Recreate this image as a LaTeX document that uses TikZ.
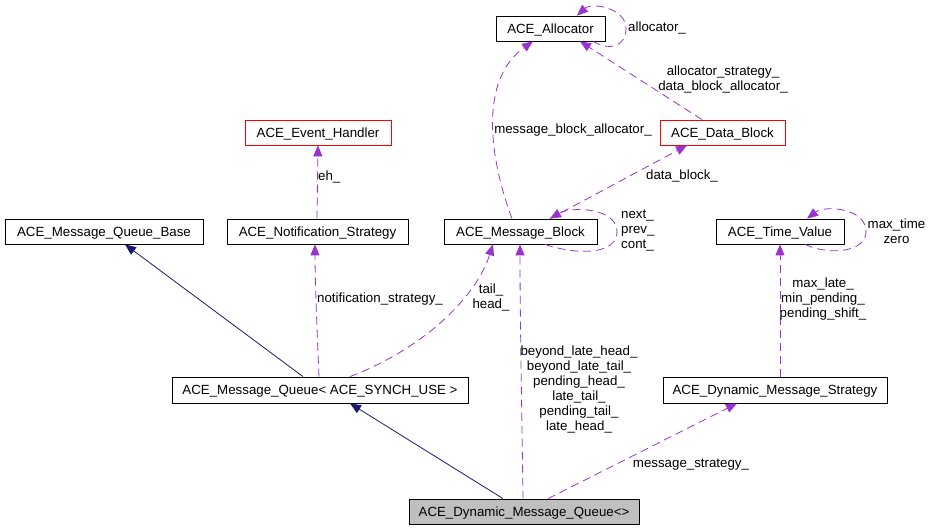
\documentclass[tikz,border=0pt]{standalone}
\usepackage{fontspec}
\setmainfont{Liberation Sans}
\usetikzlibrary{arrows.meta}
\definecolor{edgepurple}{HTML}{9A32CD}
\definecolor{edgenavy}{HTML}{191970}
\definecolor{boxgrey}{HTML}{BFBFBF}
\begin{document}
\begin{tikzpicture}[x=1pt,y=-1pt,
  every node/.style={font=\fontsize{13.3}{15}\selectfont, inner sep=0pt},
  cls/.style={draw=black, line width=0.8pt, minimum height=25pt, fill=white, text height=9.4pt, text depth=0pt},
  redcls/.style={cls, draw=red},
  usearrow/.style={draw=edgepurple, line width=0.8pt, dash pattern=on 8pt off 5pt, -{Triangle[length=11pt,width=9pt]}},
  inharrow/.style={draw=edgenavy, line width=0.8pt, -{Triangle[length=11pt,width=9pt]}},
  lbl/.style={align=center}
]
\useasboundingbox[fill=white] (0,0) rectangle (932,529);

% nodes
\node[cls, minimum width=109pt] (alloc) at (550.5,28.5) {ACE\_Allocator};
\node[redcls, minimum width=125pt] (datablock) at (722.5,132.5) {ACE\_Data\_Block};
\node[redcls, minimum width=146pt] (evh) at (318,132.5) {ACE\_Event\_Handler};
\node[cls, minimum width=198pt] (mqb) at (104,231.5) {ACE\_Message\_Queue\_Base};
\node[cls, minimum width=181pt] (notif) at (317.5,231.5) {ACE\_Notification\_Strategy};
\node[cls, minimum width=153pt] (mblock) at (520.5,231.5) {ACE\_Message\_Block};
\node[cls, minimum width=128pt] (tv) at (780,231.5) {ACE\_Time\_Value};
\node[cls, minimum width=296pt, minimum height=26pt] (mq) at (320,390) {ACE\_Message\_Queue< ACE\_SYNCH\_USE >};
\node[cls, minimum width=224pt, minimum height=26pt] (dms) at (775,390) {ACE\_Dynamic\_Message\_Strategy};
\node[cls, minimum width=230pt, fill=boxgrey] (dmq) at (524,511.5) {ACE\_Dynamic\_Message\_Queue<>};

% inheritance
\draw[inharrow] ([xshift=-21pt]dmq.north) -- ([xshift=30pt]mq.south);
\draw[inharrow] ([xshift=-17pt]mq.north) -- ([xshift=21pt]mqb.south);

% usage edges
\draw[usearrow] ([xshift=-1pt]mq.north) .. controls (317,330) and (315,280) .. ([xshift=-2.5pt]notif.south);
\node[anchor=west] (lnotif) at (317,299) {notification\_strategy\_};

\draw[usearrow] ([xshift=-0.5pt]notif.north) -- (evh.south);
\node[anchor=west] (leh) at (318,177) {eh\_};

\draw[usearrow] ([xshift=30pt]mq.north) .. controls (420,350) and (475,300) .. ([xshift=-27.5pt]mblock.south);
\node[lbl] (ltail) at (491,298) {tail\_\\head\_};

\draw[usearrow] ([xshift=-1pt]dmq.north) .. controls (522,420) and (520,320) .. ([xshift=-0.5pt]mblock.south);
\node[lbl] (lbeyond) at (579,389.5) {beyond\_late\_head\_\\beyond\_late\_tail\_\\pending\_head\_\\late\_tail\_\\pending\_tail\_\\late\_head\_};

\draw[usearrow] ([xshift=24pt]dmq.north) -- ([xshift=-38pt]dms.south);
\node[lbl] (lms) at (691,465) {message\_strategy\_};

\draw[usearrow] ([xshift=5pt]dms.north) -- (tv.south);
\node[lbl] (lmax) at (823,299) {max\_late\_\\min\_pending\_\\pending\_shift\_};

\draw[usearrow] ([xshift=25pt]tv.south) .. controls (830,256) and (866,252) .. ([xshift=86pt]tv.center) .. controls (866,208) and (825,205) .. ([xshift=27pt]tv.north);
\node[lbl] (ltv) at (896.5,231.5) {max\_time\\zero};

\draw[usearrow] ([xshift=24.5pt]mblock.south) .. controls (580,256) and (617,254) .. ([xshift=96.5pt]mblock.center) .. controls (617,208) and (572,206) .. ([xshift=29.5pt]mblock.north);
\node[anchor=west, align=left] (lmb) at (621,231) {next\_\\prev\_\\cont\_};

\draw[usearrow] ([xshift=29.5pt]mblock.north) -- ([xshift=-35.5pt]datablock.south);
\node[lbl] (ldb) at (682,176) {data\_block\_};

\draw[usearrow] ([xshift=-8.5pt]mblock.north) .. controls (490,160) and (478,80) .. ([xshift=-17.5pt]alloc.south);
\node[lbl] (lmba) at (573,130) {message\_block\_allocator\_};

\draw[usearrow] ([xshift=-20.5pt]datablock.north) -- ([xshift=29.5pt]alloc.south);
\node[lbl] (ldba) at (723,80) {allocator\_strategy\_\\data\_block\_allocator\_};

\draw[usearrow] ([xshift=42.5pt]alloc.south) .. controls (612,52) and (626,45) .. ([xshift=75.5pt]alloc.center) .. controls (626,8) and (592,2) .. ([xshift=26.5pt]alloc.north);
\node[anchor=west] (lal) at (628,28) {allocator\_};
\end{tikzpicture}
\end{document}
